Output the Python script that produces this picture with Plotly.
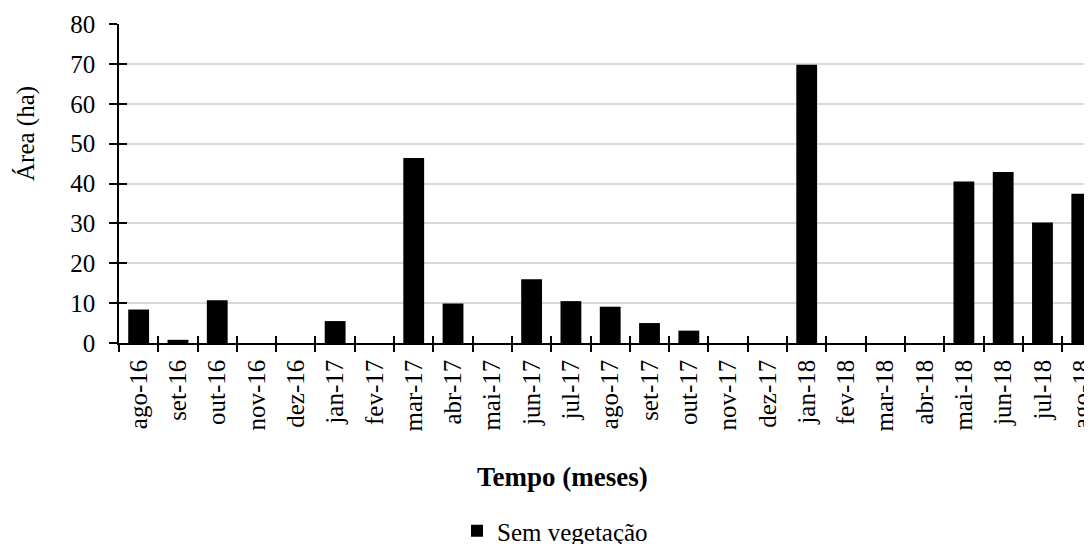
import plotly.graph_objects as go

months = ["ago-16", "set-16", "out-16", "nov-16", "dez-16", "jan-17", "fev-17",
          "mar-17", "abr-17", "mai-17", "jun-17", "jul-17", "ago-17", "set-17",
          "out-17", "nov-17", "dez-17", "jan-18", "fev-18", "mar-18", "abr-18",
          "mai-18", "jun-18", "jul-18", "ago-18"]
sem_vegetacao = [8.4, 0.8, 10.7, 0, 0, 5.5, 0, 46.4, 9.9, 0, 16.0, 10.5, 9.1, 5.0,
                 3.1, 0, 0, 69.8, 0, 0, 0, 40.5, 42.9, 30.2, 37.4]
y_ticks = [0, 10, 20, 30, 40, 50, 60, 70, 80]

FONT = "Liberation Serif"
OFF = 8  # default page margin of the html body
W, H = 1092 - OFF, 544 - OFF
L, T, B = 119 - OFF, 24 - OFF, 201
x_end = 24.26
PH = H - B - T


def px_x(x):
    return (x - OFF - L) / (W - L)


def px_y(y):
    return (H - B - (y - OFF)) / PH


fig = go.Figure()
fig.add_trace(go.Bar(x=months, y=sem_vegetacao, name="Sem vegetação",
                     marker=dict(color="black", line=dict(width=0))))
# invisible trace to carry the overlay axes (cross ticks)
fig.add_trace(go.Scatter(x=[0], y=[0], xaxis="x2", yaxis="y2", mode="markers",
                         marker=dict(opacity=0), showlegend=False, hoverinfo="skip"))

fig.update_layout(
    width=W, height=H,
    margin=dict(l=L, r=0, t=T, b=B, autoexpand=False),
    paper_bgcolor="white", plot_bgcolor="white",
    font=dict(family=FONT, size=25, color="black"),
    bargap=0.47,
    showlegend=True,
    legend=dict(orientation="h", x=px_x(555), xanchor="center",
                yref="container", y=(H - (531 - OFF)) / H, yanchor="middle",
                font=dict(family=FONT, size=25), itemwidth=30,
                bgcolor="rgba(0,0,0,0)"),
    xaxis=dict(type="category", categoryorder="array", categoryarray=months,
               range=[-0.5, x_end], tickson="boundaries", ticks="outside", ticklen=7,
               tickwidth=1.5, tickcolor="black", tickangle=-90, automargin=False,
               showline=True, linecolor="black", linewidth=1.5, showgrid=False,
               tickfont=dict(family=FONT, size=25), ticklabelstandoff=5),
    yaxis=dict(range=[0, 80], tickvals=y_ticks, ticks="outside", ticklen=8,
               tickwidth=1.5, tickcolor="black", showline=True, linecolor="black",
               linewidth=1.5, showgrid=True, gridcolor="#d9d9d9", gridwidth=1.5,
               zeroline=False, tickfont=dict(family=FONT, size=25),
               ticklabelstandoff=9, automargin=False),
    xaxis2=dict(overlaying="x", anchor="y", range=[-0.5, x_end],
                tickvals=[i - 0.5 for i in range(len(months) + 1)],
                ticks="inside", ticklen=7, tickwidth=1.5, tickcolor="black",
                showticklabels=False, showgrid=False, zeroline=False, showline=False,
                automargin=False),
    yaxis2=dict(overlaying="y", anchor="x", side="left", range=[0, 80],
                tickvals=y_ticks, ticks="inside", ticklen=8, tickwidth=1.5,
                tickcolor="black", showticklabels=False, showgrid=False,
                zeroline=False, showline=False, automargin=False),
    annotations=[
        dict(text="Área (ha)", textangle=-90, xref="paper", yref="paper",
             x=px_x(26), y=px_y(134), showarrow=False,
             xanchor="center", yanchor="middle", font=dict(family=FONT, size=25)),
        dict(text="<b>Tempo (meses)</b>", xref="paper", yref="paper",
             x=px_x(562), y=px_y(477), showarrow=False,
             xanchor="center", yanchor="middle", font=dict(family=FONT, size=27)),
    ],
)

fig.write_html("out.html")
